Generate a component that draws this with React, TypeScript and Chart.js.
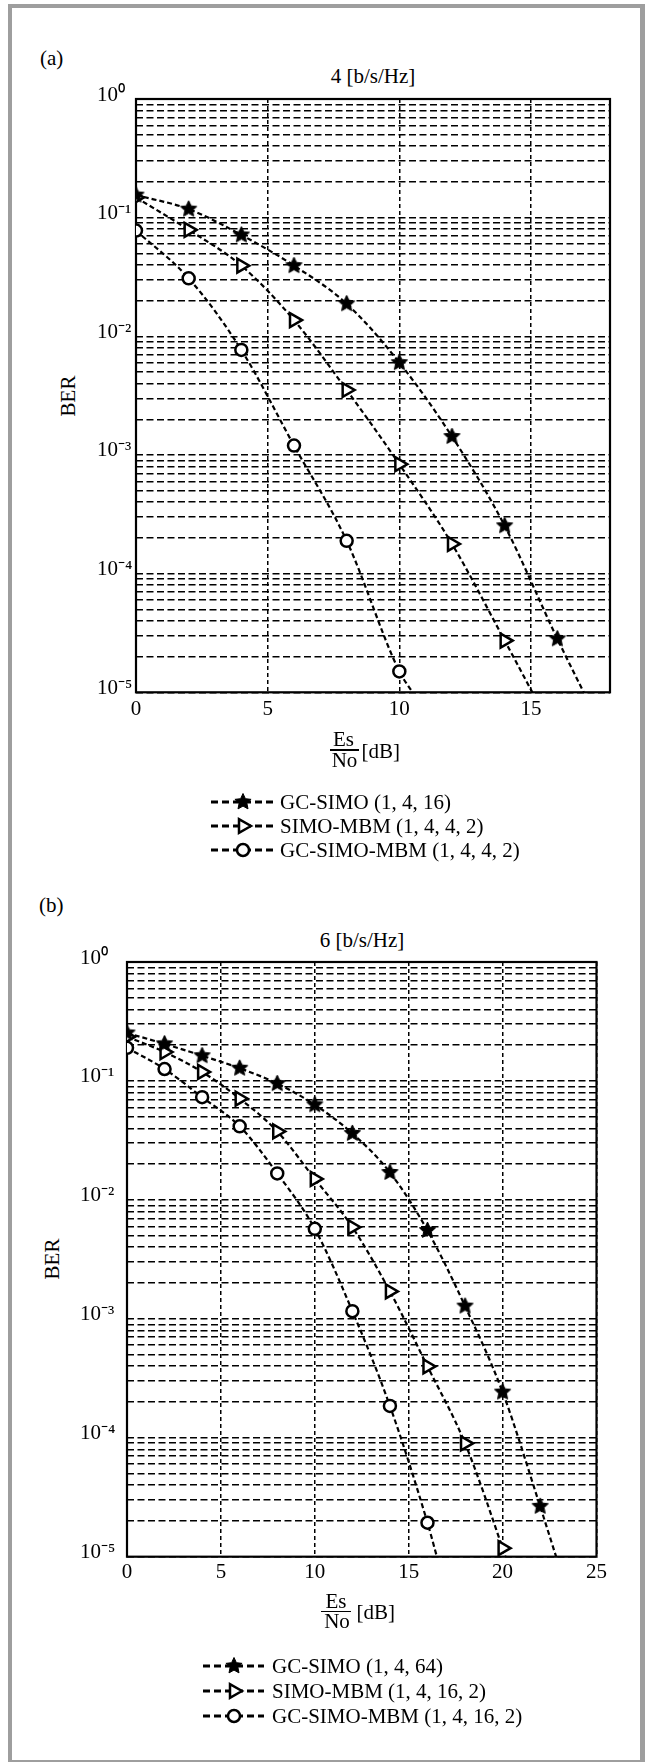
import React, { useEffect, useRef } from 'react';
import { Chart, registerables } from 'chart.js';

Chart.register(...registerables);

const SERIF = "'Liberation Serif', 'Times New Roman', Times, serif";

// ---------------- Panel (a): 4 [b/s/Hz] ----------------
// The last entry of every series is where the curve leaves the plot at 10^-5 (no marker).
const titleA = '4 [b/s/Hz]';
const legendA = ['GC-SIMO (1, 4, 16)', 'SIMO-MBM (1, 4, 4, 2)', 'GC-SIMO-MBM (1, 4, 4, 2)'];
const xTicksA = [0, 5, 10, 15];
const xMaxA = 18;
const snrGcSimoA = [0, 2, 4, 6, 8, 10, 12, 14, 16, 17];
const berGcSimoA = [0.155, 0.118, 0.0715, 0.0394, 0.0188, 0.006, 0.00143, 2.53e-4, 2.82e-5, 1e-5];
const snrSimoMbmA = [0, 2, 4, 6, 8, 10, 12, 14, 15.05];
const berSimoMbmA = [0.148, 0.079, 0.0394, 0.0137, 0.00353, 8.36e-4, 1.78e-4, 2.73e-5, 1e-5];
const snrGcSimoMbmA = [0, 2, 4, 6, 8, 10, 10.5];
const berGcSimoMbmA = [0.0778, 0.0308, 0.00768, 0.0012, 1.89e-4, 1.5e-5, 1e-5];

// ---------------- Panel (b): 6 [b/s/Hz] ----------------
const titleB = '6 [b/s/Hz]';
const legendB = ['GC-SIMO (1, 4, 64)', 'SIMO-MBM (1, 4, 16, 2)', 'GC-SIMO-MBM (1, 4, 16, 2)'];
const xTicksB = [0, 5, 10, 15, 20, 25];
const xMaxB = 25;
const snrGcSimoB = [0, 2, 4, 6, 8, 10, 12, 14, 16, 18, 20, 22, 22.85];
const berGcSimoB = [0.253, 0.205, 0.163, 0.128, 0.095, 0.063, 0.0362, 0.017, 0.00553, 0.00128, 2.42e-4, 2.65e-5, 1e-5];
const snrSimoMbmB = [0, 2, 4, 6, 8, 10, 12, 14, 16, 18, 20, 20.15];
const berSimoMbmB = [0.235, 0.175, 0.119, 0.071, 0.0376, 0.015, 0.0059, 0.0017, 3.98e-4, 8.97e-5, 1.18e-5, 1e-5];
const snrGcSimoMbmB = [0, 2, 4, 6, 8, 10, 12, 14, 16, 16.5];
const berGcSimoMbmB = [0.19, 0.126, 0.073, 0.0415, 0.0167, 0.00571, 0.00116, 1.85e-4, 1.93e-5, 1e-5];

// ---------------- shared axis ticks ----------------
const yDecades = [1e-5, 1e-4, 1e-3, 1e-2, 1e-1, 1];
const yMinorSteps = [2, 3, 4, 5, 6, 7, 8, 9];
const yMin = 1e-5;
const yMax = 1;
const yAxisTitle = 'BER';

const SUP: Record<string, string> = {
  '0': '\u2070', '1': '\u00B9', '2': '\u00B2', '3': '\u00B3', '4': '\u2074',
  '5': '\u2075', '6': '\u2076', '7': '\u2077', '8': '\u2078', '9': '\u2079', '-': '\u207B',
};

const STAR_R = 8.5;
const TRI_R = 8;
const CIRC_R = 6;
const MARK_LW = 2.5;

function buildYTicks(): number[] {
  const out: number[] = [];
  yDecades.forEach((d, i) => {
    out.push(d);
    if (i < yDecades.length - 1) yMinorSteps.forEach((m) => out.push(Number((d * m).toPrecision(3))));
  });
  return out;
}

function starPath(ctx: CanvasRenderingContext2D, cx: number, cy: number, R: number) {
  const r = R * 0.48;
  ctx.beginPath();
  for (let i = 0; i < 10; i++) {
    const a = (i * Math.PI) / 5 - Math.PI / 2;
    const rr = i % 2 === 0 ? R : r;
    const px = cx + Math.cos(a) * rr;
    const py = cy + Math.sin(a) * rr;
    if (i === 0) ctx.moveTo(px, py);
    else ctx.lineTo(px, py);
  }
  ctx.closePath();
}

function makeStarCanvas(R: number): HTMLCanvasElement {
  const size = Math.ceil(2 * R + 4);
  const c = document.createElement('canvas');
  c.width = size;
  c.height = size;
  const ctx = c.getContext('2d')!;
  starPath(ctx, size / 2, size / 2, R);
  ctx.fillStyle = '#000';
  ctx.fill();
  ctx.strokeStyle = '#000';
  ctx.lineWidth = 1;
  ctx.lineJoin = 'round';
  ctx.stroke();
  return c;
}

type Kind = 'star' | 'tri' | 'circ';

function drawLegendMarker(ctx: CanvasRenderingContext2D, kind: Kind, x: number, y: number) {
  ctx.save();
  ctx.setLineDash([]);
  ctx.strokeStyle = '#000';
  ctx.fillStyle = '#fff';
  ctx.lineWidth = MARK_LW;
  if (kind === 'star') {
    starPath(ctx, x, y, STAR_R);
    ctx.fillStyle = '#000';
    ctx.fill();
    ctx.lineWidth = 1;
    ctx.stroke();
  } else if (kind === 'tri') {
    ctx.beginPath();
    for (let i = 0; i < 3; i++) {
      const a = (i * 2 * Math.PI) / 3;
      const px = x + Math.cos(a) * TRI_R;
      const py = y + Math.sin(a) * TRI_R;
      if (i === 0) ctx.moveTo(px, py);
      else ctx.lineTo(px, py);
    }
    ctx.closePath();
    ctx.fill();
    ctx.stroke();
  } else {
    ctx.beginPath();
    ctx.arc(x, y, CIRC_R, 0, Math.PI * 2);
    ctx.fill();
    ctx.stroke();
  }
  ctx.restore();
}

interface PanelDef {
  canvasTop: number;
  canvasHeight: number;
  padLeft: number;
  yAxisW: number;
  padRight: number;
  padTop: number;
  xAxisH: number;
  padBottom: number;
  xTickPad: number;
  xTicks: number[];
  xMax: number;
  series: { label: string; xs: number[]; ys: number[]; kind: Kind }[];
  legend: { x1: number; x2: number; xm: number; xt: number; rows: number[] };
}

const panelA: PanelDef = {
  canvasTop: 60,
  canvasHeight: 820,
  padLeft: 97,
  yAxisW: 39,
  padRight: 35,
  padTop: 39,
  xAxisH: 30,
  padBottom: 157.7,
  xTickPad: 6,
  xTicks: xTicksA,
  xMax: xMaxA,
  series: [
    { label: legendA[0], xs: snrGcSimoA, ys: berGcSimoA, kind: 'star' },
    { label: legendA[1], xs: snrSimoMbmA, ys: berSimoMbmA, kind: 'tri' },
    { label: legendA[2], xs: snrGcSimoMbmA, ys: berGcSimoMbmA, kind: 'circ' },
  ],
  legend: { x1: 211, x2: 273, xm: 243, xt: 280, rows: [742, 766, 790] },
};

const panelB: PanelDef = {
  canvasTop: 925,
  canvasHeight: 837,
  padLeft: 80,
  yAxisW: 47,
  padRight: 48.5,
  padTop: 37,
  xAxisH: 30,
  padBottom: 175.3,
  xTickPad: 4,
  xTicks: xTicksB,
  xMax: xMaxB,
  series: [
    { label: legendB[0], xs: snrGcSimoB, ys: berGcSimoB, kind: 'star' },
    { label: legendB[1], xs: snrSimoMbmB, ys: berSimoMbmB, kind: 'tri' },
    { label: legendB[2], xs: snrGcSimoMbmB, ys: berGcSimoMbmB, kind: 'circ' },
  ],
  legend: { x1: 203, x2: 264, xm: 234, xt: 272, rows: [741, 766, 791] },
};

function Panel({ p }: { p: PanelDef }) {
  const ref = useRef<HTMLCanvasElement>(null);
  useEffect(() => {
    const canvas = ref.current;
    if (!canvas) return;
    const star = makeStarCanvas(STAR_R);
    const yTicks = buildYTicks();

    const datasets = p.series.map((s) => {
      const last = s.xs.length - 1;
      const base: any = {
        label: s.label,
        data: s.xs.map((x, i) => ({ x, y: s.ys[i] })),
        borderColor: '#000',
        borderWidth: 2.2,
        borderDash: [5, 3],
        cubicInterpolationMode: 'monotone',
        fill: false,
        pointBorderColor: '#000',
        pointBackgroundColor: '#fff',
        pointBorderWidth: MARK_LW,
        pointHoverRadius: 0,
      };
      if (s.kind === 'star') {
        base.pointStyle = star;
        base.pointRadius = s.xs.map((_, i) => (i === last ? 0 : STAR_R));
      } else if (s.kind === 'tri') {
        base.pointStyle = 'triangle';
        base.pointRotation = 90;
        base.pointRadius = s.xs.map((_, i) => (i === last ? 0 : TRI_R));
      } else {
        base.pointStyle = 'circle';
        base.pointRadius = s.xs.map((_, i) => (i === last ? 0 : CIRC_R));
      }
      return base;
    });

    const framePlugin = {
      id: 'frame',
      beforeDatasetsDraw(chart: any) {
        const { ctx, chartArea: a } = chart;
        ctx.save();
        ctx.setLineDash([]);
        ctx.strokeStyle = '#000';
        ctx.lineWidth = 2.2;
        ctx.strokeRect(a.left, a.top, a.right - a.left, a.bottom - a.top);
        ctx.restore();
      },
    };

    const legendPlugin = {
      id: 'dashLegend',
      afterDraw(chart: any) {
        const { ctx } = chart;
        const L = p.legend;
        p.series.forEach((s, i) => {
          const y = L.rows[i];
          ctx.save();
          ctx.strokeStyle = '#000';
          ctx.lineWidth = 3.2;
          ctx.setLineDash([7, 4]);
          ctx.beginPath();
          ctx.moveTo(L.x1, y);
          ctx.lineTo(L.x2, y);
          ctx.stroke();
          ctx.restore();
          drawLegendMarker(ctx, s.kind, L.xm, y);
          ctx.save();
          ctx.fillStyle = '#000';
          ctx.font = `21px ${SERIF}`;
          ctx.textAlign = 'left';
          ctx.textBaseline = 'middle';
          ctx.fillText(s.label, L.xt, y + 1);
          ctx.restore();
        });
      },
    };

    const chart = new Chart(canvas, {
      type: 'line',
      data: { datasets },
      plugins: [framePlugin, legendPlugin],
      options: {
        responsive: false,
        animation: false,
        events: [],
        layout: { padding: { left: p.padLeft, right: p.padRight, top: p.padTop, bottom: p.padBottom } },
        plugins: { legend: { display: false }, tooltip: { enabled: false }, title: { display: false } },
        scales: {
          x: {
            type: 'linear',
            min: 0,
            max: p.xMax,
            afterBuildTicks: (scale: any) => {
              scale.ticks = p.xTicks.map((v) => ({ value: v }));
            },
            afterFit: (scale: any) => {
              scale.height = p.xAxisH;
            },
            ticks: {
              font: { family: SERIF, size: 21 },
              color: '#000',
              padding: p.xTickPad - 1,
              maxRotation: 0,
              autoSkip: false,
            },
            grid: { color: '#000', lineWidth: 1.5, drawTicks: false },
            border: { display: false, dash: [4, 3] },
          },
          y: {
            type: 'logarithmic',
            min: yMin,
            max: yMax,
            afterBuildTicks: (scale: any) => {
              scale.ticks = yTicks.map((v) => ({ value: v }));
            },
            afterFit: (scale: any) => {
              scale.width = p.yAxisW;
            },
            ticks: {
              font: { family: SERIF, size: 21 },
              color: '#000',
              autoSkip: false,
              crossAlign: 'far',
              labelOffset: -4,
              callback: (v: any) => {
                const e = Math.log10(Number(v));
                const r = Math.round(e);
                if (Math.abs(e - r) < 1e-6) {
                  return '10' + String(r).split('').map((c) => SUP[c]).join('');
                }
                return '';
              },
            },
            grid: { color: '#000', lineWidth: 1.5, drawTicks: false },
            border: { display: false, dash: [7, 3.5] },
          },
        },
      } as any,
    });
    return () => chart.destroy();
  }, [p]);
  return (
    <canvas
      ref={ref}
      width={645}
      height={p.canvasHeight}
      style={{ position: 'absolute', left: 0, top: p.canvasTop, display: 'block' }}
    />
  );
}

function Txt({
  x,
  baseline,
  size = 21,
  center = false,
  children,
}: {
  x: number;
  baseline: number;
  size?: number;
  center?: boolean;
  children: React.ReactNode;
}) {
  return (
    <div
      style={{
        position: 'absolute',
        left: x,
        top: baseline - 0.8375 * size,
        fontSize: size,
        lineHeight: `${size}px`,
        fontFamily: SERIF,
        color: '#000',
        whiteSpace: 'nowrap',
        transform: center ? 'translateX(-50%)' : undefined,
      }}
    >
      {children}
    </div>
  );
}

function RotLabel({ cx, cy, text }: { cx: number; cy: number; text: string }) {
  return (
    <div
      style={{
        position: 'absolute',
        left: cx,
        top: cy,
        fontSize: 21,
        lineHeight: '21px',
        fontFamily: SERIF,
        color: '#000',
        whiteSpace: 'nowrap',
        transform: 'translate(-50%, -50%) rotate(-90deg)',
      }}
    >
      {text}
    </div>
  );
}

function Fraction({ cx, barY, barL, barR, dbX }: { cx: number; barY: number; barL: number; barR: number; dbX: number }) {
  return (
    <>
      <Txt x={cx} baseline={barY - 3.3} center>
        Es
      </Txt>
      <div
        style={{
          position: 'absolute',
          left: barL,
          top: barY - 0.75,
          width: barR - barL,
          height: 1.5,
          background: '#000',
        }}
      />
      <Txt x={cx + 1} baseline={barY + 17.5} center>
        No
      </Txt>
      <Txt x={dbX} baseline={barY + 8.3}>
        [dB]
      </Txt>
    </>
  );
}

export default function App() {
  return (
    <div style={{ position: 'absolute', left: 0, top: 0, width: 645, height: 1762, overflow: 'hidden', background: '#fff' }}>
      <div
        style={{
          position: 'absolute',
          left: 8,
          top: 4,
          width: 637,
          height: 1758,
          boxSizing: 'border-box',
          borderStyle: 'solid',
          borderColor: '#9e9e9e',
          borderWidth: '4.5px 5px 2px 4.5px',
        }}
      />
      {/* panel (a) */}
      <Txt x={40} baseline={66}>(a)</Txt>
      <Txt x={373} baseline={84} center>
        {titleA}
      </Txt>
      <RotLabel cx={67.5} cy={395.5} text={yAxisTitle} />
      <Panel p={panelA} />
      <Fraction cx={343.5} barY={750} barL={329.5} barR={358.5} dbX={361.5} />

      {/* panel (b) */}
      <Txt x={39} baseline={913}>(b)</Txt>
      <Txt x={362} baseline={948} center>
        {titleB}
      </Txt>
      <RotLabel cx={51.5} cy={1259} text={yAxisTitle} />
      <Panel p={panelB} />
      <Fraction cx={336} barY={1611.5} barL={321} barR={351} dbX={356.5} />
    </div>
  );
}
